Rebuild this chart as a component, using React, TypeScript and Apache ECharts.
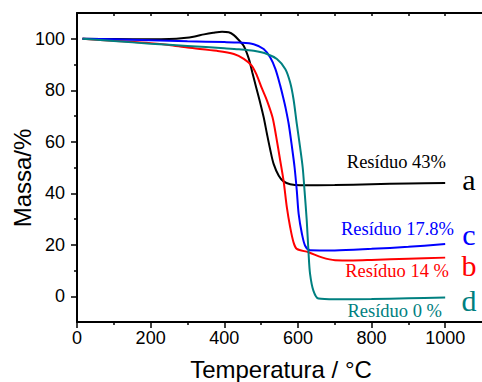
import React, { useEffect, useRef } from "react";
import * as echarts from "echarts";

const seriesNames = ["a", "b", "c", "d"];
const seriesColors = ["#000000", "#ff0000", "#0000ff", "#008080"];

const curveA: [number, number][] = [
  [15, 100], [100, 99.9], [200, 99.8], [250, 99.9], [290, 100.3], [320, 100.9], [345, 101.7],
  [370, 102.3], [394, 102.7], [412, 102.5], [426, 101.4], [440, 99.4], [453, 97.2], [467, 92.1],
  [476, 87], [486, 81.5], [496, 76], [507, 69.5], [516, 63], [525, 56.8], [534, 51.4],
  [548, 46.8], [561, 44.6], [579, 43.5], [606, 43.1], [700, 43.2], [800, 43.5], [900, 43.8], [1000, 44],
];
const curveB: [number, number][] = [
  [15, 100], [100, 99.2], [200, 98.3], [250, 97.6], [300, 96.6], [380, 95.3], [426, 94.1],
  [453, 92.2], [475, 89.5], [489, 85.6], [502, 80.8], [516, 76], [531, 69.5], [541, 62],
  [551, 53.5], [561, 44.9], [570, 34.5], [579, 26.8], [588, 21], [597, 18.4], [629, 17.1],
  [665, 15.1], [701, 14], [750, 13.9], [800, 14.1], [900, 14.6], [1000, 15],
];
const curveC: [number, number][] = [
  [15, 100], [100, 99.8], [200, 99.4], [300, 99], [400, 98.7], [440, 98.5], [480, 97.9],
  [507, 96], [525, 92.7], [539, 88.2], [552, 81.8], [561, 76.6], [566, 73.5], [575, 66.9],
  [584, 57.8], [591, 50], [597, 41], [602, 32], [611, 24.2], [620, 19.5], [633, 17.9],
  [700, 17.8], [800, 18.4], [900, 19.2], [1000, 20.3],
];
const curveD: [number, number][] = [
  [15, 100], [100, 99.1], [200, 98.1], [300, 97.2], [400, 96.3], [440, 95.9], [480, 95.3],
  [516, 94.1], [543, 92.1], [566, 88.2], [579, 83], [588, 76.6], [597, 66.9], [606, 57.8],
  [613, 50], [618, 41], [624, 29.4], [629, 16.5], [633, 8.7], [642, 2.2], [656, -0.9],
  [700, -1.2], [800, -1.1], [900, -0.8], [1000, -0.5],
];

const xMajorTicks = [0, 200, 400, 600, 800, 1000];
const xMinorTicks = [100, 300, 500, 700, 900];
const xTopTicks = [100, 200, 300, 400, 500, 600, 700, 800, 900, 1000];
const yMajorTicks = [0, 20, 40, 60, 80, 100];
const yMinorTicks = [10, 30, 50, 70, 90];

const residueLabels = ["Resíduo 43%", "Resíduo 14 %", "Resíduo 17.8%", "Resíduo 0 %"];

export default function App() {
  const ref = useRef<HTMLDivElement>(null);
  useEffect(() => {
    if (!ref.current) return;
    const chart = echarts.init(ref.current, null, { renderer: "svg" });
    const sans = "Liberation Sans, Arial, sans-serif";
    const serif = "Liberation Serif, Times New Roman, serif";
    const curves = [curveA, curveB, curveC, curveD];
    const plain = (v: number) => String(v);
    const baseX = {
      type: "value",
      min: 0,
      max: 1100,
      interval: 100,
      splitLine: { show: false },
    };
    const baseY = {
      type: "value",
      min: -10,
      max: 110,
      interval: 10,
      splitLine: { show: false },
    };
    const option: any = {
      animation: false,
      backgroundColor: "#ffffff",
      grid: { left: 77, right: -3, top: 13, bottom: 60, containLabel: false },
      xAxis: [
        {
          ...baseX,
          position: "bottom",
          axisLine: { show: true, onZero: false, lineStyle: { color: "#000", width: 2 } },
          axisTick: { show: true, inside: false, length: 6, customValues: xMajorTicks, lineStyle: { color: "#000", width: 1.5 } },
          axisLabel: { show: true, customValues: xMajorTicks, formatter: plain, margin: 7, color: "#000", fontSize: 18, fontFamily: sans },
        },
        {
          ...baseX,
          position: "bottom",
          axisLine: { show: false, onZero: false },
          axisTick: { show: true, inside: false, length: 3, customValues: xMinorTicks, lineStyle: { color: "#000", width: 1.5 } },
          axisLabel: { show: false },
        },
        {
          ...baseX,
          position: "top",
          axisLine: { show: true, onZero: false, lineStyle: { color: "#000", width: 2 } },
          axisTick: { show: true, inside: true, length: 3, customValues: xTopTicks, lineStyle: { color: "#000", width: 1.5 } },
          axisLabel: { show: false },
        },
      ],
      yAxis: [
        {
          ...baseY,
          position: "left",
          axisLine: { show: true, onZero: false, lineStyle: { color: "#000", width: 2 } },
          axisTick: { show: true, inside: false, length: 6, customValues: yMajorTicks, lineStyle: { color: "#000", width: 1.5 } },
          axisLabel: { show: true, customValues: yMajorTicks, formatter: plain, margin: 12, color: "#000", fontSize: 18, fontFamily: sans },
        },
        {
          ...baseY,
          position: "left",
          axisLine: { show: false, onZero: false },
          axisTick: { show: true, inside: false, length: 3, customValues: yMinorTicks, lineStyle: { color: "#000", width: 1.5 } },
          axisLabel: { show: false },
        },
      ],
      series: curves.map((c, i) => ({
        name: seriesNames[i],
        type: "line",
        xAxisIndex: 0,
        yAxisIndex: 0,
        data: c,
        showSymbol: false,
        smooth: 0.3,
        lineStyle: { color: seriesColors[i], width: 2 },
        itemStyle: { color: seriesColors[i] },
        z: 2 + i,
      })),
      graphic: [
        { type: "text", x: 22, y: 178, rotation: Math.PI / 2, style: { text: "Massa/%", fill: "#000", font: `24px ${sans}`, align: "center", verticalAlign: "middle" } },
        { type: "text", x: 281, y: 369, style: { text: "Temperatura / °C", fill: "#000", font: `24px ${sans}`, align: "center", verticalAlign: "middle" } },
        { type: "text", x: 446, y: 162, style: { text: residueLabels[0], fill: seriesColors[0], font: `18.5px ${serif}`, align: "right", verticalAlign: "middle" } },
        { type: "text", x: 449, y: 271, style: { text: residueLabels[1], fill: seriesColors[1], font: `18.5px ${serif}`, align: "right", verticalAlign: "middle" } },
        { type: "text", x: 454, y: 229, style: { text: residueLabels[2], fill: seriesColors[2], font: `18.5px ${serif}`, align: "right", verticalAlign: "middle" } },
        { type: "text", x: 442, y: 311, style: { text: residueLabels[3], fill: seriesColors[3], font: `18.5px ${serif}`, align: "right", verticalAlign: "middle" } },
        { type: "text", x: 469, y: 179, style: { text: seriesNames[0], fill: seriesColors[0], font: `30px ${serif}`, align: "center", verticalAlign: "middle" } },
        { type: "text", x: 469, y: 265, style: { text: seriesNames[1], fill: seriesColors[1], font: `30px ${serif}`, align: "center", verticalAlign: "middle" } },
        { type: "text", x: 469, y: 234, style: { text: seriesNames[2], fill: seriesColors[2], font: `30px ${serif}`, align: "center", verticalAlign: "middle" } },
        { type: "text", x: 469, y: 300, style: { text: seriesNames[3], fill: seriesColors[3], font: `30px ${serif}`, align: "center", verticalAlign: "middle" } },
      ],
    };
    chart.setOption(option);
    return () => chart.dispose();
  }, []);
  return (
    <div
      ref={ref}
      style={{ position: "absolute", left: 0, top: 0, width: 482, height: 382 }}
    />
  );
}
